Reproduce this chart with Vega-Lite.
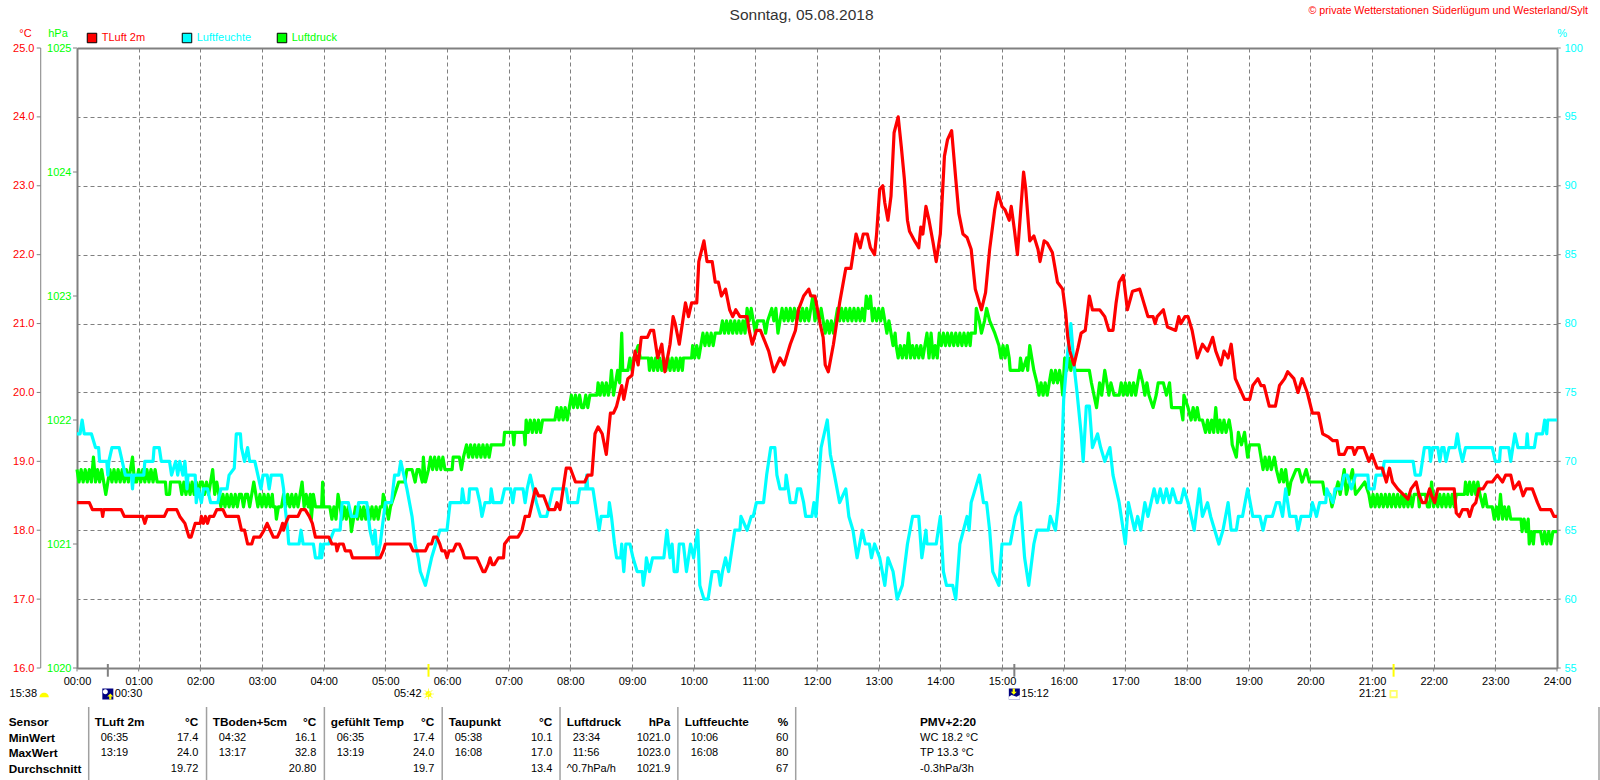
{
"$schema":"https://vega.github.io/schema/vega-lite/v6.json",
"description":"Wetterstation Tagesgang 05.08.2018",
"width":1480,"height":620,"autosize":"none",
"padding":{"left":77,"top":48,"right":43,"bottom":112},
"background":"white",
"config":{
"view":{"stroke":null},
"axis":{"labelFont":"Liberation Sans","titleFont":"Liberation Sans","labelFontSize":11,"titleFontSize":11,"titleFontWeight":"normal","tickColor":"#808080","tickOpacity":1,"domainColor":"#808080","domainOpacity":1,"gridColor":"#808080","gridDash":[4,3],"gridOpacity":1,"labelOverlap":false,"labelBound":false,"labelFlush":false},
"text":{"font":"Liberation Sans","fontSize":11}
},
"datasets":{
"tluft":[{"min":0,"t":18.4},{"min":12,"t":18.4},{"min":15,"t":18.3},{"min":24,"t":18.3},{"min":25,"t":18.2},{"min":26,"t":18.3},{"min":43,"t":18.3},{"min":46,"t":18.2},{"min":64,"t":18.2},{"min":66,"t":18.1},{"min":68,"t":18.2},{"min":85,"t":18.2},{"min":88,"t":18.3},{"min":97,"t":18.3},{"min":100,"t":18.2},{"min":105,"t":18.1},{"min":107,"t":18.0},{"min":109,"t":17.9},{"min":111,"t":17.9},{"min":115,"t":18.1},{"min":120,"t":18.1},{"min":121,"t":18.2},{"min":123,"t":18.1},{"min":125,"t":18.2},{"min":127,"t":18.1},{"min":129,"t":18.2},{"min":133,"t":18.2},{"min":136,"t":18.3},{"min":142,"t":18.3},{"min":145,"t":18.2},{"min":157,"t":18.2},{"min":160,"t":18.0},{"min":163,"t":18.0},{"min":166,"t":17.8},{"min":168,"t":17.8},{"min":170,"t":17.8},{"min":172,"t":17.9},{"min":178,"t":17.9},{"min":182,"t":18.0},{"min":185,"t":18.1},{"min":188,"t":18.0},{"min":191,"t":17.9},{"min":195,"t":17.9},{"min":198,"t":18.0},{"min":200,"t":18.1},{"min":201,"t":18.0},{"min":203,"t":18.1},{"min":206,"t":18.2},{"min":215,"t":18.2},{"min":218,"t":18.3},{"min":222,"t":18.3},{"min":226,"t":18.2},{"min":229,"t":18.1},{"min":232,"t":17.9},{"min":245,"t":17.9},{"min":248,"t":17.8},{"min":252,"t":17.8},{"min":253,"t":17.7},{"min":255,"t":17.8},{"min":259,"t":17.8},{"min":261,"t":17.7},{"min":266,"t":17.7},{"min":268,"t":17.6},{"min":269,"t":17.6},{"min":295,"t":17.6},{"min":298,"t":17.7},{"min":300,"t":17.8},{"min":324,"t":17.8},{"min":327,"t":17.7},{"min":339,"t":17.7},{"min":342,"t":17.8},{"min":345,"t":17.8},{"min":347,"t":17.9},{"min":350,"t":17.9},{"min":353,"t":17.8},{"min":355,"t":17.7},{"min":358,"t":17.7},{"min":360,"t":17.6},{"min":362,"t":17.7},{"min":366,"t":17.7},{"min":369,"t":17.8},{"min":372,"t":17.8},{"min":375,"t":17.7},{"min":377,"t":17.6},{"min":389,"t":17.6},{"min":392,"t":17.5},{"min":395,"t":17.4},{"min":397,"t":17.4},{"min":400,"t":17.5},{"min":402,"t":17.6},{"min":404,"t":17.5},{"min":406,"t":17.5},{"min":410,"t":17.6},{"min":415,"t":17.6},{"min":416,"t":17.8},{"min":421,"t":17.9},{"min":429,"t":17.9},{"min":433,"t":18.0},{"min":436,"t":18.2},{"min":440,"t":18.2},{"min":443,"t":18.4},{"min":446,"t":18.6},{"min":449,"t":18.5},{"min":454,"t":18.5},{"min":459,"t":18.3},{"min":465,"t":18.3},{"min":467,"t":18.4},{"min":470,"t":18.3},{"min":473,"t":18.6},{"min":476,"t":18.9},{"min":480,"t":18.9},{"min":485,"t":18.7},{"min":494,"t":18.7},{"min":497,"t":18.8},{"min":501,"t":18.8},{"min":504,"t":19.4},{"min":507,"t":19.5},{"min":511,"t":19.4},{"min":515,"t":19.1},{"min":519,"t":19.7},{"min":522,"t":19.7},{"min":525,"t":19.8},{"min":530,"t":20.1},{"min":532,"t":19.9},{"min":536,"t":20.2},{"min":540,"t":20.25},{"min":543,"t":20.6},{"min":546,"t":20.4},{"min":549,"t":20.8},{"min":555,"t":20.8},{"min":558,"t":20.9},{"min":561,"t":20.9},{"min":565,"t":20.5},{"min":569,"t":20.7},{"min":572,"t":20.3},{"min":577,"t":20.7},{"min":580,"t":21.1},{"min":582,"t":21.0},{"min":586,"t":20.7},{"min":592,"t":21.3},{"min":595,"t":21.1},{"min":598,"t":21.3},{"min":603,"t":21.3},{"min":605,"t":21.9},{"min":610,"t":22.2},{"min":613,"t":21.9},{"min":618,"t":21.9},{"min":621,"t":21.6},{"min":624,"t":21.6},{"min":627,"t":21.4},{"min":631,"t":21.5},{"min":635,"t":21.2},{"min":638,"t":21.1},{"min":641,"t":21.2},{"min":645,"t":21.1},{"min":652,"t":21.1},{"min":654,"t":20.9},{"min":657,"t":20.7},{"min":661,"t":20.9},{"min":665,"t":20.9},{"min":673,"t":20.6},{"min":678,"t":20.3},{"min":684,"t":20.5},{"min":688,"t":20.4},{"min":694,"t":20.7},{"min":699,"t":20.9},{"min":702,"t":21.2},{"min":707,"t":21.4},{"min":712,"t":21.5},{"min":714,"t":21.4},{"min":718,"t":21.4},{"min":723,"t":21.0},{"min":726,"t":20.8},{"min":728,"t":20.4},{"min":731,"t":20.3},{"min":736,"t":20.7},{"min":742,"t":21.3},{"min":748,"t":21.8},{"min":753,"t":21.8},{"min":756,"t":22.1},{"min":758,"t":22.3},{"min":762,"t":22.1},{"min":765,"t":22.3},{"min":769,"t":22.3},{"min":772,"t":22.1},{"min":776,"t":22.0},{"min":778,"t":22.3},{"min":781,"t":22.95},{"min":784,"t":23.0},{"min":786,"t":22.75},{"min":789,"t":22.5},{"min":792,"t":22.85},{"min":795,"t":23.77},{"min":799,"t":24.0},{"min":802,"t":23.57},{"min":805,"t":23.1},{"min":808,"t":22.5},{"min":810,"t":22.34},{"min":815,"t":22.2},{"min":819,"t":22.1},{"min":821,"t":22.4},{"min":823,"t":22.3},{"min":826,"t":22.7},{"min":829,"t":22.5},{"min":833,"t":22.17},{"min":836,"t":21.9},{"min":840,"t":22.3},{"min":844,"t":23.43},{"min":847,"t":23.67},{"min":851,"t":23.8},{"min":855,"t":23.1},{"min":858,"t":22.6},{"min":862,"t":22.3},{"min":866,"t":22.25},{"min":870,"t":22.08},{"min":874,"t":21.5},{"min":878,"t":21.3},{"min":880,"t":21.2},{"min":884,"t":21.45},{"min":888,"t":22.08},{"min":893,"t":22.66},{"min":896,"t":22.9},{"min":900,"t":22.7},{"min":903,"t":22.65},{"min":907,"t":22.5},{"min":909,"t":22.7},{"min":912,"t":22.37},{"min":915,"t":22.0},{"min":918,"t":22.6},{"min":921,"t":23.2},{"min":923,"t":22.97},{"min":927,"t":22.2},{"min":931,"t":22.27},{"min":935,"t":22.08},{"min":937,"t":21.9},{"min":941,"t":22.2},{"min":944,"t":22.17},{"min":949,"t":22.03},{"min":954,"t":21.6},{"min":959,"t":21.5},{"min":962,"t":21.15},{"min":964,"t":20.8},{"min":966,"t":20.6},{"min":970,"t":20.4},{"min":974,"t":20.65},{"min":977,"t":20.86},{"min":981,"t":20.9},{"min":985,"t":21.4},{"min":988,"t":21.2},{"min":995,"t":21.2},{"min":1000,"t":21.1},{"min":1004,"t":20.9},{"min":1008,"t":20.9},{"min":1011,"t":21.3},{"min":1014,"t":21.6},{"min":1018,"t":21.7},{"min":1022,"t":21.2},{"min":1027,"t":21.47},{"min":1034,"t":21.5},{"min":1038,"t":21.3},{"min":1042,"t":21.1},{"min":1047,"t":21.1},{"min":1049,"t":21.0},{"min":1051,"t":21.1},{"min":1057,"t":21.2},{"min":1061,"t":20.95},{"min":1069,"t":20.9},{"min":1072,"t":21.1},{"min":1074,"t":21.0},{"min":1078,"t":21.1},{"min":1081,"t":21.1},{"min":1085,"t":20.9},{"min":1090,"t":20.5},{"min":1095,"t":20.7},{"min":1100,"t":20.6},{"min":1105,"t":20.8},{"min":1108,"t":20.6},{"min":1113,"t":20.4},{"min":1116,"t":20.6},{"min":1120,"t":20.5},{"min":1123,"t":20.7},{"min":1127,"t":20.2},{"min":1133,"t":20.0},{"min":1136,"t":19.9},{"min":1141,"t":19.9},{"min":1144,"t":20.1},{"min":1149,"t":20.2},{"min":1152,"t":20.1},{"min":1155,"t":20.1},{"min":1160,"t":19.8},{"min":1166,"t":19.8},{"min":1170,"t":20.1},{"min":1175,"t":20.2},{"min":1178,"t":20.3},{"min":1184,"t":20.2},{"min":1188,"t":20.0},{"min":1192,"t":20.2},{"min":1197,"t":20.0},{"min":1202,"t":19.7},{"min":1208,"t":19.7},{"min":1212,"t":19.4},{"min":1218,"t":19.35},{"min":1222,"t":19.3},{"min":1226,"t":19.3},{"min":1228,"t":19.1},{"min":1233,"t":19.1},{"min":1236,"t":19.2},{"min":1241,"t":19.2},{"min":1243,"t":19.1},{"min":1246,"t":19.2},{"min":1252,"t":19.2},{"min":1257,"t":19.0},{"min":1260,"t":19.1},{"min":1265,"t":18.9},{"min":1270,"t":18.9},{"min":1274,"t":18.7},{"min":1277,"t":18.9},{"min":1280,"t":18.7},{"min":1285,"t":18.6},{"min":1295,"t":18.45},{"min":1298,"t":18.6},{"min":1303,"t":18.7},{"min":1306,"t":18.5},{"min":1309,"t":18.4},{"min":1312,"t":18.4},{"min":1316,"t":18.6},{"min":1318,"t":18.5},{"min":1321,"t":18.4},{"min":1324,"t":18.6},{"min":1340,"t":18.6},{"min":1342,"t":18.25},{"min":1345,"t":18.2},{"min":1348,"t":18.3},{"min":1353,"t":18.3},{"min":1355,"t":18.2},{"min":1358,"t":18.35},{"min":1361,"t":18.4},{"min":1364,"t":18.6},{"min":1368,"t":18.6},{"min":1372,"t":18.7},{"min":1377,"t":18.7},{"min":1382,"t":18.8},{"min":1387,"t":18.7},{"min":1390,"t":18.8},{"min":1395,"t":18.8},{"min":1398,"t":18.6},{"min":1403,"t":18.7},{"min":1407,"t":18.5},{"min":1410,"t":18.6},{"min":1416,"t":18.6},{"min":1421,"t":18.4},{"min":1424,"t":18.3},{"min":1434,"t":18.3},{"min":1437,"t":18.2},{"min":1440,"t":18.2}],
"feuchte":[{"min":0,"h":72},{"min":3,"h":72},{"min":5,"h":73},{"min":7,"h":72},{"min":14,"h":72},{"min":18,"h":71},{"min":21,"h":71},{"min":22,"h":70},{"min":29,"h":70},{"min":30,"h":69},{"min":31,"h":70},{"min":34,"h":71},{"min":41,"h":71},{"min":44,"h":70},{"min":47,"h":69},{"min":53,"h":69},{"min":54,"h":68},{"min":55,"h":69},{"min":65,"h":69},{"min":66,"h":70},{"min":74,"h":70},{"min":75,"h":71},{"min":80,"h":71},{"min":82,"h":70},{"min":90,"h":70},{"min":92,"h":69},{"min":96,"h":70},{"min":98,"h":69},{"min":100,"h":70},{"min":103,"h":69},{"min":105,"h":70},{"min":107,"h":68},{"min":108,"h":69},{"min":115,"h":69},{"min":116,"h":67},{"min":118,"h":68},{"min":121,"h":67},{"min":123,"h":68},{"min":127,"h":68},{"min":130,"h":67},{"min":137,"h":67},{"min":140,"h":68},{"min":146,"h":68},{"min":148,"h":69},{"min":153,"h":69.5},{"min":155,"h":72},{"min":159,"h":72},{"min":160,"h":71},{"min":163,"h":70},{"min":166,"h":71},{"min":168,"h":70},{"min":173,"h":70},{"min":176,"h":69},{"min":179,"h":68},{"min":181,"h":69},{"min":185,"h":69},{"min":187,"h":68},{"min":189,"h":69},{"min":199,"h":69},{"min":201,"h":68},{"min":202,"h":67},{"min":205,"h":65},{"min":206,"h":64},{"min":216,"h":64},{"min":218,"h":65},{"min":220,"h":64},{"min":230,"h":64},{"min":232,"h":63},{"min":236,"h":63},{"min":237,"h":64},{"min":238,"h":63},{"min":240,"h":64},{"min":245,"h":64},{"min":250,"h":65},{"min":256,"h":65},{"min":258,"h":67},{"min":264,"h":67},{"min":267,"h":66},{"min":272,"h":66},{"min":274,"h":67},{"min":282,"h":67},{"min":285,"h":65},{"min":288,"h":64},{"min":290,"h":65},{"min":292,"h":63},{"min":295,"h":64},{"min":300,"h":67},{"min":306,"h":67},{"min":309,"h":69},{"min":313,"h":69},{"min":315,"h":70},{"min":318,"h":69},{"min":321,"h":68},{"min":326,"h":66},{"min":329,"h":64},{"min":332,"h":63},{"min":334,"h":62},{"min":339,"h":61},{"min":342,"h":62},{"min":345,"h":63},{"min":349,"h":64},{"min":353,"h":65},{"min":360,"h":65},{"min":363,"h":67},{"min":374,"h":67},{"min":375,"h":68},{"min":377,"h":67},{"min":381,"h":67},{"min":382,"h":68},{"min":389,"h":68},{"min":392,"h":67},{"min":394,"h":66},{"min":397,"h":67},{"min":402,"h":67},{"min":403,"h":68},{"min":405,"h":67},{"min":413,"h":67},{"min":416,"h":68},{"min":422,"h":68},{"min":424,"h":67},{"min":426,"h":68},{"min":434,"h":68},{"min":436,"h":67},{"min":438,"h":68},{"min":441,"h":69},{"min":444,"h":68},{"min":447,"h":67},{"min":451,"h":66},{"min":457,"h":66},{"min":460,"h":67},{"min":463,"h":68},{"min":470,"h":68},{"min":476,"h":68},{"min":478,"h":67},{"min":487,"h":67},{"min":489,"h":68},{"min":495,"h":68},{"min":496,"h":69},{"min":497,"h":68},{"min":502,"h":68},{"min":506,"h":66},{"min":508,"h":65},{"min":510,"h":66},{"min":517,"h":66},{"min":518,"h":67},{"min":520,"h":66},{"min":523,"h":64},{"min":525,"h":63},{"min":529,"h":63},{"min":530,"h":64},{"min":532,"h":62},{"min":534,"h":64},{"min":538,"h":64},{"min":541,"h":63},{"min":545,"h":62},{"min":550,"h":62},{"min":551,"h":61},{"min":553,"h":62},{"min":554,"h":63},{"min":557,"h":62},{"min":560,"h":63},{"min":571,"h":63},{"min":574,"h":65},{"min":577,"h":63},{"min":579,"h":64},{"min":581,"h":62},{"min":584,"h":62},{"min":586,"h":64},{"min":590,"h":64},{"min":593,"h":62},{"min":597,"h":64},{"min":600,"h":63},{"min":604,"h":65},{"min":606,"h":61},{"min":610,"h":60},{"min":614,"h":60},{"min":616,"h":61},{"min":618,"h":62},{"min":624,"h":62},{"min":626,"h":61},{"min":628,"h":62},{"min":631,"h":63},{"min":634,"h":62},{"min":638,"h":64},{"min":640,"h":65},{"min":645,"h":65},{"min":646,"h":66},{"min":652,"h":65},{"min":656,"h":66},{"min":658,"h":66},{"min":661,"h":67},{"min":668,"h":67},{"min":671,"h":69},{"min":675,"h":71},{"min":679,"h":71},{"min":681,"h":69},{"min":684,"h":68},{"min":689,"h":68},{"min":690,"h":69},{"min":694,"h":67},{"min":699,"h":67},{"min":701,"h":68},{"min":704,"h":68},{"min":707,"h":67},{"min":709,"h":66},{"min":715,"h":66},{"min":717,"h":67},{"min":719,"h":66},{"min":721,"h":68},{"min":724,"h":71},{"min":730,"h":73},{"min":733,"h":70.5},{"min":737,"h":69},{"min":742,"h":67},{"min":748,"h":68},{"min":751,"h":66},{"min":755,"h":65},{"min":759,"h":63},{"min":764,"h":65},{"min":767,"h":64},{"min":771,"h":64},{"min":773,"h":63},{"min":776,"h":64},{"min":781,"h":63},{"min":786,"h":61},{"min":789,"h":63},{"min":794,"h":62},{"min":798,"h":60},{"min":803,"h":61},{"min":808,"h":64},{"min":813,"h":66},{"min":819,"h":66},{"min":822,"h":63},{"min":826,"h":65},{"min":827,"h":64},{"min":836,"h":64},{"min":840,"h":66},{"min":843,"h":62},{"min":846,"h":61},{"min":852,"h":61},{"min":855,"h":60},{"min":859,"h":64},{"min":866,"h":66},{"min":868,"h":65},{"min":870,"h":67},{"min":878,"h":69},{"min":882,"h":67},{"min":885,"h":67},{"min":888,"h":65},{"min":891,"h":62},{"min":897,"h":61},{"min":900,"h":64},{"min":908,"h":64},{"min":913,"h":66},{"min":918,"h":67},{"min":922,"h":63},{"min":926,"h":61},{"min":931,"h":64},{"min":934,"h":65},{"min":945,"h":65},{"min":947,"h":66},{"min":952,"h":65},{"min":955,"h":67},{"min":958,"h":70},{"min":960,"h":74.5},{"min":964,"h":78},{"min":967,"h":80},{"min":970,"h":77},{"min":973,"h":75},{"min":977,"h":72},{"min":979,"h":70},{"min":982,"h":74},{"min":985,"h":74},{"min":988,"h":71},{"min":993,"h":72},{"min":996,"h":71},{"min":1000,"h":70},{"min":1005,"h":71},{"min":1008,"h":69},{"min":1011,"h":68},{"min":1014,"h":67},{"min":1020,"h":64},{"min":1023,"h":67},{"min":1029,"h":65},{"min":1032,"h":66},{"min":1035,"h":65},{"min":1039,"h":67},{"min":1042,"h":66},{"min":1045,"h":67},{"min":1048,"h":68},{"min":1051,"h":67},{"min":1054,"h":68},{"min":1057,"h":67},{"min":1060,"h":68},{"min":1063,"h":67},{"min":1066,"h":68},{"min":1070,"h":67},{"min":1074,"h":67},{"min":1077,"h":68},{"min":1081,"h":67},{"min":1084,"h":66},{"min":1087,"h":65},{"min":1092,"h":68},{"min":1095,"h":66},{"min":1100,"h":67},{"min":1103,"h":66},{"min":1107,"h":65},{"min":1111,"h":64},{"min":1115,"h":65},{"min":1120,"h":67},{"min":1123,"h":65},{"min":1128,"h":65},{"min":1130,"h":66},{"min":1134,"h":66},{"min":1139,"h":68},{"min":1144,"h":66},{"min":1151,"h":66},{"min":1154,"h":65},{"min":1157,"h":66},{"min":1163,"h":66},{"min":1167,"h":67},{"min":1170,"h":67},{"min":1173,"h":66},{"min":1176,"h":68},{"min":1180,"h":66},{"min":1186,"h":66},{"min":1188,"h":65},{"min":1191,"h":66},{"min":1200,"h":66},{"min":1202,"h":67},{"min":1206,"h":66},{"min":1209,"h":67},{"min":1215,"h":67},{"min":1216,"h":68},{"min":1222,"h":67},{"min":1224,"h":68},{"min":1230,"h":68},{"min":1233,"h":69},{"min":1236,"h":69},{"min":1240,"h":68},{"min":1244,"h":69},{"min":1256,"h":69},{"min":1257,"h":68},{"min":1262,"h":68},{"min":1264,"h":69},{"min":1270,"h":69},{"min":1272,"h":70},{"min":1300,"h":70},{"min":1302,"h":69},{"min":1307,"h":69},{"min":1309,"h":70},{"min":1311,"h":71},{"min":1316,"h":71},{"min":1317,"h":70},{"min":1319,"h":71},{"min":1324,"h":71},{"min":1326,"h":70},{"min":1328,"h":71},{"min":1330,"h":71},{"min":1332,"h":70},{"min":1335,"h":71},{"min":1341,"h":71},{"min":1343,"h":72},{"min":1345,"h":71},{"min":1348,"h":70},{"min":1351,"h":71},{"min":1377,"h":71},{"min":1380,"h":70},{"min":1384,"h":70},{"min":1385,"h":71},{"min":1393,"h":71},{"min":1395,"h":70},{"min":1397,"h":71},{"min":1399,"h":72},{"min":1402,"h":71},{"min":1410,"h":71},{"min":1411,"h":72},{"min":1412,"h":71},{"min":1418,"h":71},{"min":1420,"h":72},{"min":1426,"h":72},{"min":1428,"h":73},{"min":1430,"h":72},{"min":1431,"h":73},{"min":1440,"h":73}],
"druck":[{"min":0,"p":1021.6},{"min":2,"p":1021.5},{"min":4,"p":1021.6},{"min":6,"p":1021.5},{"min":8,"p":1021.6},{"min":10,"p":1021.5},{"min":12,"p":1021.6},{"min":14,"p":1021.5},{"min":16,"p":1021.7},{"min":18,"p":1021.5},{"min":20,"p":1021.6},{"min":22,"p":1021.5},{"min":24,"p":1021.6},{"min":26,"p":1021.5},{"min":28,"p":1021.4},{"min":30,"p":1021.5},{"min":32,"p":1021.6},{"min":34,"p":1021.5},{"min":36,"p":1021.6},{"min":38,"p":1021.5},{"min":40,"p":1021.6},{"min":42,"p":1021.5},{"min":44,"p":1021.6},{"min":46,"p":1021.5},{"min":48,"p":1021.6},{"min":50,"p":1021.5},{"min":52,"p":1021.6},{"min":54,"p":1021.7},{"min":56,"p":1021.5},{"min":58,"p":1021.5},{"min":60,"p":1021.6},{"min":62,"p":1021.5},{"min":64,"p":1021.6},{"min":66,"p":1021.5},{"min":68,"p":1021.6},{"min":70,"p":1021.5},{"min":72,"p":1021.6},{"min":74,"p":1021.5},{"min":76,"p":1021.6},{"min":78,"p":1021.5},{"min":86,"p":1021.5},{"min":87,"p":1021.4},{"min":90,"p":1021.4},{"min":91,"p":1021.5},{"min":100,"p":1021.5},{"min":102,"p":1021.4},{"min":104,"p":1021.5},{"min":106,"p":1021.4},{"min":108,"p":1021.5},{"min":110,"p":1021.4},{"min":112,"p":1021.5},{"min":114,"p":1021.4},{"min":116,"p":1021.5},{"min":118,"p":1021.4},{"min":120,"p":1021.5},{"min":122,"p":1021.5},{"min":124,"p":1021.4},{"min":126,"p":1021.5},{"min":128,"p":1021.4},{"min":130,"p":1021.5},{"min":132,"p":1021.6},{"min":134,"p":1021.4},{"min":136,"p":1021.5},{"min":138,"p":1021.4},{"min":140,"p":1021.3},{"min":142,"p":1021.4},{"min":144,"p":1021.3},{"min":146,"p":1021.4},{"min":148,"p":1021.3},{"min":150,"p":1021.4},{"min":152,"p":1021.3},{"min":154,"p":1021.4},{"min":156,"p":1021.3},{"min":158,"p":1021.4},{"min":160,"p":1021.4},{"min":162,"p":1021.3},{"min":164,"p":1021.4},{"min":166,"p":1021.4},{"min":168,"p":1021.3},{"min":170,"p":1021.4},{"min":172,"p":1021.5},{"min":174,"p":1021.4},{"min":176,"p":1021.3},{"min":178,"p":1021.4},{"min":180,"p":1021.3},{"min":182,"p":1021.4},{"min":184,"p":1021.3},{"min":186,"p":1021.4},{"min":188,"p":1021.3},{"min":190,"p":1021.4},{"min":191,"p":1021.3},{"min":193,"p":1021.3},{"min":194,"p":1021.2},{"min":196,"p":1021.3},{"min":199,"p":1021.3},{"min":201,"p":1021.4},{"min":203,"p":1021.3},{"min":205,"p":1021.4},{"min":207,"p":1021.3},{"min":209,"p":1021.4},{"min":211,"p":1021.3},{"min":213,"p":1021.4},{"min":215,"p":1021.3},{"min":217,"p":1021.4},{"min":219,"p":1021.5},{"min":221,"p":1021.3},{"min":223,"p":1021.4},{"min":225,"p":1021.3},{"min":227,"p":1021.4},{"min":228,"p":1021.2},{"min":230,"p":1021.4},{"min":232,"p":1021.3},{"min":238,"p":1021.3},{"min":239,"p":1021.5},{"min":240,"p":1021.3},{"min":246,"p":1021.3},{"min":248,"p":1021.2},{"min":250,"p":1021.3},{"min":252,"p":1021.2},{"min":254,"p":1021.4},{"min":256,"p":1021.3},{"min":258,"p":1021.2},{"min":260,"p":1021.3},{"min":262,"p":1021.2},{"min":264,"p":1021.3},{"min":266,"p":1021.2},{"min":267,"p":1021.1},{"min":269,"p":1021.2},{"min":271,"p":1021.3},{"min":273,"p":1021.2},{"min":275,"p":1021.3},{"min":277,"p":1021.2},{"min":279,"p":1021.3},{"min":281,"p":1021.2},{"min":283,"p":1021.3},{"min":285,"p":1021.2},{"min":287,"p":1021.3},{"min":289,"p":1021.2},{"min":291,"p":1021.3},{"min":293,"p":1021.2},{"min":295,"p":1021.3},{"min":297,"p":1021.3},{"min":298,"p":1021.4},{"min":301,"p":1021.3},{"min":303,"p":1021.2},{"min":305,"p":1021.3},{"min":309,"p":1021.4},{"min":313,"p":1021.5},{"min":319,"p":1021.5},{"min":321,"p":1021.6},{"min":326,"p":1021.6},{"min":329,"p":1021.5},{"min":331,"p":1021.6},{"min":333,"p":1021.6},{"min":336,"p":1021.5},{"min":337,"p":1021.7},{"min":339,"p":1021.5},{"min":342,"p":1021.6},{"min":344,"p":1021.7},{"min":346,"p":1021.6},{"min":348,"p":1021.7},{"min":350,"p":1021.6},{"min":352,"p":1021.7},{"min":354,"p":1021.6},{"min":356,"p":1021.7},{"min":358,"p":1021.6},{"min":365,"p":1021.6},{"min":366,"p":1021.7},{"min":372,"p":1021.7},{"min":374,"p":1021.6},{"min":376,"p":1021.7},{"min":379,"p":1021.8},{"min":381,"p":1021.7},{"min":383,"p":1021.8},{"min":385,"p":1021.7},{"min":387,"p":1021.8},{"min":389,"p":1021.7},{"min":391,"p":1021.8},{"min":393,"p":1021.7},{"min":395,"p":1021.8},{"min":397,"p":1021.7},{"min":399,"p":1021.8},{"min":401,"p":1021.7},{"min":403,"p":1021.8},{"min":415,"p":1021.8},{"min":416,"p":1021.9},{"min":424,"p":1021.9},{"min":425,"p":1021.8},{"min":426,"p":1021.9},{"min":435,"p":1021.9},{"min":436,"p":1021.8},{"min":437,"p":1022.0},{"min":439,"p":1021.9},{"min":441,"p":1022.0},{"min":443,"p":1021.9},{"min":445,"p":1022.0},{"min":447,"p":1021.9},{"min":449,"p":1022.0},{"min":451,"p":1021.9},{"min":453,"p":1022.0},{"min":465,"p":1022.0},{"min":467,"p":1022.1},{"min":469,"p":1022.0},{"min":471,"p":1022.1},{"min":473,"p":1022.0},{"min":475,"p":1022.1},{"min":477,"p":1022.0},{"min":479,"p":1022.1},{"min":481,"p":1022.2},{"min":483,"p":1022.1},{"min":485,"p":1022.2},{"min":487,"p":1022.1},{"min":489,"p":1022.2},{"min":491,"p":1022.1},{"min":493,"p":1022.1},{"min":495,"p":1022.2},{"min":497,"p":1022.1},{"min":499,"p":1022.2},{"min":506,"p":1022.2},{"min":507,"p":1022.3},{"min":509,"p":1022.2},{"min":511,"p":1022.3},{"min":513,"p":1022.2},{"min":515,"p":1022.3},{"min":517,"p":1022.2},{"min":519,"p":1022.3},{"min":520,"p":1022.4},{"min":522,"p":1022.2},{"min":524,"p":1022.3},{"min":526,"p":1022.4},{"min":528,"p":1022.3},{"min":530,"p":1022.7},{"min":531,"p":1022.4},{"min":536,"p":1022.4},{"min":538,"p":1022.5},{"min":540,"p":1022.4},{"min":542,"p":1022.5},{"min":546,"p":1022.6},{"min":548,"p":1022.5},{"min":556,"p":1022.5},{"min":557,"p":1022.4},{"min":559,"p":1022.5},{"min":561,"p":1022.4},{"min":563,"p":1022.5},{"min":565,"p":1022.4},{"min":567,"p":1022.5},{"min":569,"p":1022.4},{"min":571,"p":1022.5},{"min":573,"p":1022.4},{"min":575,"p":1022.5},{"min":577,"p":1022.4},{"min":579,"p":1022.5},{"min":581,"p":1022.4},{"min":583,"p":1022.5},{"min":585,"p":1022.4},{"min":587,"p":1022.5},{"min":589,"p":1022.4},{"min":590,"p":1022.5},{"min":598,"p":1022.5},{"min":599,"p":1022.6},{"min":601,"p":1022.5},{"min":603,"p":1022.6},{"min":605,"p":1022.5},{"min":607,"p":1022.6},{"min":609,"p":1022.7},{"min":611,"p":1022.6},{"min":613,"p":1022.7},{"min":615,"p":1022.6},{"min":617,"p":1022.7},{"min":619,"p":1022.6},{"min":621,"p":1022.7},{"min":626,"p":1022.7},{"min":628,"p":1022.8},{"min":630,"p":1022.7},{"min":632,"p":1022.8},{"min":634,"p":1022.7},{"min":636,"p":1022.8},{"min":638,"p":1022.7},{"min":640,"p":1022.8},{"min":642,"p":1022.7},{"min":644,"p":1022.8},{"min":646,"p":1022.7},{"min":648,"p":1022.8},{"min":650,"p":1022.7},{"min":652,"p":1022.9},{"min":654,"p":1022.8},{"min":656,"p":1022.9},{"min":658,"p":1022.8},{"min":660,"p":1022.7},{"min":662,"p":1022.8},{"min":668,"p":1022.8},{"min":670,"p":1022.7},{"min":672,"p":1022.8},{"min":676,"p":1022.9},{"min":678,"p":1022.8},{"min":680,"p":1022.9},{"min":682,"p":1022.7},{"min":684,"p":1022.8},{"min":686,"p":1022.9},{"min":688,"p":1022.8},{"min":690,"p":1022.9},{"min":692,"p":1022.8},{"min":694,"p":1022.9},{"min":696,"p":1022.8},{"min":698,"p":1022.9},{"min":700,"p":1022.8},{"min":702,"p":1022.9},{"min":704,"p":1022.8},{"min":706,"p":1022.9},{"min":708,"p":1022.8},{"min":710,"p":1022.9},{"min":712,"p":1022.8},{"min":714,"p":1022.9},{"min":716,"p":1023.0},{"min":718,"p":1022.8},{"min":720,"p":1022.9},{"min":722,"p":1022.8},{"min":724,"p":1022.9},{"min":726,"p":1022.8},{"min":728,"p":1022.7},{"min":730,"p":1022.8},{"min":732,"p":1022.7},{"min":734,"p":1022.8},{"min":736,"p":1022.7},{"min":738,"p":1022.8},{"min":740,"p":1022.9},{"min":742,"p":1022.8},{"min":744,"p":1022.9},{"min":746,"p":1022.8},{"min":748,"p":1022.9},{"min":750,"p":1022.8},{"min":752,"p":1022.9},{"min":754,"p":1022.8},{"min":756,"p":1022.9},{"min":758,"p":1022.8},{"min":760,"p":1022.9},{"min":762,"p":1022.8},{"min":764,"p":1022.9},{"min":766,"p":1022.8},{"min":768,"p":1023.0},{"min":770,"p":1022.9},{"min":772,"p":1023.0},{"min":774,"p":1022.8},{"min":776,"p":1022.9},{"min":778,"p":1022.8},{"min":780,"p":1022.9},{"min":782,"p":1022.8},{"min":784,"p":1022.9},{"min":786,"p":1022.8},{"min":788,"p":1022.7},{"min":790,"p":1022.8},{"min":792,"p":1022.7},{"min":794,"p":1022.6},{"min":796,"p":1022.7},{"min":797,"p":1022.6},{"min":799,"p":1022.5},{"min":801,"p":1022.6},{"min":803,"p":1022.5},{"min":805,"p":1022.6},{"min":807,"p":1022.5},{"min":809,"p":1022.7},{"min":811,"p":1022.5},{"min":813,"p":1022.6},{"min":815,"p":1022.5},{"min":817,"p":1022.6},{"min":819,"p":1022.5},{"min":821,"p":1022.6},{"min":823,"p":1022.5},{"min":825,"p":1022.6},{"min":827,"p":1022.7},{"min":829,"p":1022.5},{"min":831,"p":1022.7},{"min":833,"p":1022.5},{"min":835,"p":1022.6},{"min":837,"p":1022.5},{"min":839,"p":1022.7},{"min":841,"p":1022.6},{"min":843,"p":1022.7},{"min":845,"p":1022.6},{"min":847,"p":1022.7},{"min":849,"p":1022.6},{"min":851,"p":1022.7},{"min":853,"p":1022.6},{"min":855,"p":1022.7},{"min":857,"p":1022.6},{"min":859,"p":1022.7},{"min":861,"p":1022.6},{"min":863,"p":1022.7},{"min":865,"p":1022.6},{"min":867,"p":1022.7},{"min":869,"p":1022.6},{"min":870,"p":1022.7},{"min":874,"p":1022.7},{"min":875,"p":1022.9},{"min":878,"p":1022.8},{"min":880,"p":1022.7},{"min":883,"p":1022.8},{"min":885,"p":1022.9},{"min":888,"p":1022.8},{"min":893,"p":1022.7},{"min":897,"p":1022.6},{"min":899,"p":1022.5},{"min":901,"p":1022.6},{"min":903,"p":1022.5},{"min":905,"p":1022.6},{"min":907,"p":1022.5},{"min":908,"p":1022.4},{"min":917,"p":1022.4},{"min":918,"p":1022.5},{"min":920,"p":1022.4},{"min":924,"p":1022.5},{"min":925,"p":1022.4},{"min":927,"p":1022.6},{"min":929,"p":1022.5},{"min":931,"p":1022.4},{"min":934,"p":1022.3},{"min":936,"p":1022.2},{"min":938,"p":1022.3},{"min":940,"p":1022.2},{"min":942,"p":1022.3},{"min":944,"p":1022.2},{"min":946,"p":1022.3},{"min":948,"p":1022.4},{"min":950,"p":1022.3},{"min":952,"p":1022.4},{"min":954,"p":1022.3},{"min":956,"p":1022.4},{"min":958,"p":1022.3},{"min":959,"p":1022.2},{"min":961,"p":1022.5},{"min":963,"p":1022.4},{"min":965,"p":1022.5},{"min":967,"p":1022.4},{"min":969,"p":1022.5},{"min":971,"p":1022.4},{"min":985,"p":1022.4},{"min":987,"p":1022.3},{"min":992,"p":1022.1},{"min":995,"p":1022.3},{"min":997,"p":1022.2},{"min":1000,"p":1022.4},{"min":1002,"p":1022.3},{"min":1004,"p":1022.2},{"min":1006,"p":1022.3},{"min":1009,"p":1022.2},{"min":1014,"p":1022.2},{"min":1016,"p":1022.3},{"min":1018,"p":1022.2},{"min":1020,"p":1022.3},{"min":1022,"p":1022.2},{"min":1024,"p":1022.3},{"min":1026,"p":1022.2},{"min":1028,"p":1022.3},{"min":1030,"p":1022.2},{"min":1032,"p":1022.3},{"min":1034,"p":1022.4},{"min":1037,"p":1022.3},{"min":1039,"p":1022.2},{"min":1041,"p":1022.3},{"min":1043,"p":1022.2},{"min":1047,"p":1022.1},{"min":1050,"p":1022.2},{"min":1052,"p":1022.3},{"min":1057,"p":1022.3},{"min":1060,"p":1022.2},{"min":1063,"p":1022.3},{"min":1065,"p":1022.1},{"min":1074,"p":1022.1},{"min":1076,"p":1022.0},{"min":1077,"p":1022.2},{"min":1081,"p":1022.1},{"min":1084,"p":1022.0},{"min":1086,"p":1022.1},{"min":1088,"p":1022.0},{"min":1090,"p":1022.1},{"min":1092,"p":1022.0},{"min":1095,"p":1022.0},{"min":1098,"p":1021.9},{"min":1100,"p":1022.0},{"min":1102,"p":1021.9},{"min":1104,"p":1022.0},{"min":1106,"p":1021.9},{"min":1108,"p":1022.1},{"min":1110,"p":1021.9},{"min":1112,"p":1022.0},{"min":1114,"p":1021.9},{"min":1116,"p":1022.0},{"min":1118,"p":1021.9},{"min":1121,"p":1022.0},{"min":1123,"p":1021.9},{"min":1124,"p":1021.8},{"min":1128,"p":1021.7},{"min":1130,"p":1021.9},{"min":1133,"p":1021.8},{"min":1136,"p":1021.9},{"min":1139,"p":1021.7},{"min":1141,"p":1021.8},{"min":1150,"p":1021.8},{"min":1152,"p":1021.7},{"min":1154,"p":1021.6},{"min":1156,"p":1021.7},{"min":1158,"p":1021.6},{"min":1160,"p":1021.7},{"min":1162,"p":1021.6},{"min":1165,"p":1021.7},{"min":1167,"p":1021.6},{"min":1170,"p":1021.5},{"min":1172,"p":1021.6},{"min":1174,"p":1021.5},{"min":1176,"p":1021.6},{"min":1179,"p":1021.4},{"min":1181,"p":1021.5},{"min":1186,"p":1021.6},{"min":1189,"p":1021.6},{"min":1192,"p":1021.5},{"min":1196,"p":1021.6},{"min":1199,"p":1021.5},{"min":1212,"p":1021.5},{"min":1214,"p":1021.4},{"min":1219,"p":1021.4},{"min":1221,"p":1021.3},{"min":1224,"p":1021.4},{"min":1227,"p":1021.5},{"min":1229,"p":1021.4},{"min":1231,"p":1021.5},{"min":1233,"p":1021.6},{"min":1235,"p":1021.4},{"min":1238,"p":1021.5},{"min":1241,"p":1021.6},{"min":1244,"p":1021.4},{"min":1253,"p":1021.5},{"min":1257,"p":1021.4},{"min":1259,"p":1021.3},{"min":1261,"p":1021.4},{"min":1263,"p":1021.3},{"min":1265,"p":1021.4},{"min":1267,"p":1021.3},{"min":1269,"p":1021.4},{"min":1271,"p":1021.3},{"min":1273,"p":1021.4},{"min":1275,"p":1021.3},{"min":1277,"p":1021.4},{"min":1279,"p":1021.3},{"min":1281,"p":1021.4},{"min":1283,"p":1021.3},{"min":1285,"p":1021.4},{"min":1287,"p":1021.3},{"min":1289,"p":1021.4},{"min":1291,"p":1021.3},{"min":1293,"p":1021.4},{"min":1295,"p":1021.3},{"min":1297,"p":1021.4},{"min":1299,"p":1021.3},{"min":1301,"p":1021.4},{"min":1305,"p":1021.4},{"min":1306,"p":1021.3},{"min":1307,"p":1021.4},{"min":1312,"p":1021.4},{"min":1314,"p":1021.3},{"min":1316,"p":1021.3},{"min":1318,"p":1021.5},{"min":1320,"p":1021.3},{"min":1322,"p":1021.4},{"min":1324,"p":1021.3},{"min":1326,"p":1021.4},{"min":1328,"p":1021.3},{"min":1330,"p":1021.4},{"min":1332,"p":1021.3},{"min":1334,"p":1021.4},{"min":1336,"p":1021.3},{"min":1338,"p":1021.4},{"min":1340,"p":1021.3},{"min":1342,"p":1021.4},{"min":1350,"p":1021.4},{"min":1351,"p":1021.5},{"min":1353,"p":1021.4},{"min":1355,"p":1021.5},{"min":1357,"p":1021.4},{"min":1359,"p":1021.5},{"min":1361,"p":1021.4},{"min":1363,"p":1021.5},{"min":1365,"p":1021.4},{"min":1368,"p":1021.3},{"min":1370,"p":1021.4},{"min":1372,"p":1021.3},{"min":1377,"p":1021.3},{"min":1379,"p":1021.2},{"min":1381,"p":1021.3},{"min":1383,"p":1021.2},{"min":1385,"p":1021.4},{"min":1387,"p":1021.2},{"min":1389,"p":1021.3},{"min":1391,"p":1021.2},{"min":1393,"p":1021.3},{"min":1395,"p":1021.2},{"min":1405,"p":1021.2},{"min":1406,"p":1021.1},{"min":1408,"p":1021.2},{"min":1410,"p":1021.1},{"min":1412,"p":1021.2},{"min":1413,"p":1021.0},{"min":1415,"p":1021.1},{"min":1417,"p":1021.0},{"min":1418,"p":1021.1},{"min":1424,"p":1021.1},{"min":1426,"p":1021.0},{"min":1428,"p":1021.1},{"min":1430,"p":1021.0},{"min":1432,"p":1021.1},{"min":1434,"p":1021.0},{"min":1436,"p":1021.1},{"min":1440,"p":1021.1}],
"stricheC":[{"t":16},{"t":17},{"t":18},{"t":19},{"t":20},{"t":21},{"t":22},{"t":23},{"t":24},{"t":25}],
"stricheP":[{"p":1020},{"p":1021},{"p":1022},{"p":1023},{"p":1024},{"p":1025}],
"stricheH":[{"h":55},{"h":60},{"h":65},{"h":70},{"h":75},{"h":80},{"h":85},{"h":90},{"h":95},{"h":100}],
"stricheX":[{"min":0},{"min":60},{"min":120},{"min":180},{"min":240},{"min":300},{"min":360},{"min":420},{"min":480},{"min":540},{"min":600},{"min":660},{"min":720},{"min":780},{"min":840},{"min":900},{"min":960},{"min":1020},{"min":1080},{"min":1140},{"min":1200},{"min":1260},{"min":1320},{"min":1380},{"min":1440}],
"legende":[{"spalte":0,"name":"TLuft 2m"},{"spalte":1,"name":"Luftfeuchte"},{"spalte":2,"name":"Luftdruck"}],
"ereignis":[{"min":30,"typ":"Mond"},{"min":342,"typ":"Sonne"},{"min":912,"typ":"Mond"},{"min":1281,"typ":"Sonne"}],
"zeitenR":[{"min":-32,"zeit":"15:38"},{"min":342,"zeit":"05:42"},{"min":1281,"zeit":"21:21"}],
"zeitenL":[{"min":30,"zeit":"00:30"},{"min":912,"zeit":"15:12"}],
"symbole":[{"min":-32,"teil":"Kuppel"},{"min":30,"teil":"Quadrat"},{"min":30,"teil":"Wolke"},{"min":30,"teil":"PfeilAuf"},{"min":342,"teil":"Sonne"},{"min":912,"teil":"Quadrat"},{"min":912,"teil":"Schnee"},{"min":912,"teil":"PfeilAb"},{"min":1281,"teil":"Ring"}],
"trenner":[{"spalte":1},{"spalte":2},{"spalte":3},{"spalte":4},{"spalte":5},{"spalte":6},{"spalte":7},{"spalte":8}],
"kopfLinks":[{"spalte":0,"zeile":"Sensor","text":"Sensor"},{"spalte":0,"zeile":"MinWert","text":"MinWert"},{"spalte":0,"zeile":"MaxWert","text":"MaxWert"},{"spalte":0,"zeile":"Durchschnitt","text":"Durchschnitt"},{"spalte":1,"zeile":"Sensor","text":"TLuft 2m"},{"spalte":2,"zeile":"Sensor","text":"TBoden+5cm"},{"spalte":3,"zeile":"Sensor","text":"gefühlt Temp"},{"spalte":4,"zeile":"Sensor","text":"Taupunkt"},{"spalte":5,"zeile":"Sensor","text":"Luftdruck"},{"spalte":6,"zeile":"Sensor","text":"Luftfeuchte"},{"spalte":7,"zeile":"Sensor","text":"PMV+2:20"}],
"kopfRechts":[{"spalte":1,"text":"°C"},{"spalte":2,"text":"°C"},{"spalte":3,"text":"°C"},{"spalte":4,"text":"°C"},{"spalte":5,"text":"hPa"},{"spalte":6,"text":"%"}],
"zeiten":[{"spalte":1,"zeile":"MinWert","text":"06:35"},{"spalte":1,"zeile":"MaxWert","text":"13:19"},{"spalte":2,"zeile":"MinWert","text":"04:32"},{"spalte":2,"zeile":"MaxWert","text":"13:17"},{"spalte":3,"zeile":"MinWert","text":"06:35"},{"spalte":3,"zeile":"MaxWert","text":"13:19"},{"spalte":4,"zeile":"MinWert","text":"05:38"},{"spalte":4,"zeile":"MaxWert","text":"16:08"},{"spalte":5,"zeile":"MinWert","text":"23:34"},{"spalte":5,"zeile":"MaxWert","text":"11:56"},{"spalte":6,"zeile":"MinWert","text":"10:06"},{"spalte":6,"zeile":"MaxWert","text":"16:08"}],
"extras":[{"spalte":5,"zeile":"Durchschnitt","text":"^0.7hPa/h"},{"spalte":7,"zeile":"MinWert","text":"WC 18.2 °C"},{"spalte":7,"zeile":"MaxWert","text":"TP 13.3 °C"},{"spalte":7,"zeile":"Durchschnitt","text":"-0.3hPa/3h"}],
"werte":[{"spalte":1,"zeile":"MinWert","text":"17.4"},{"spalte":1,"zeile":"MaxWert","text":"24.0"},{"spalte":1,"zeile":"Durchschnitt","text":"19.72"},{"spalte":2,"zeile":"MinWert","text":"16.1"},{"spalte":2,"zeile":"MaxWert","text":"32.8"},{"spalte":2,"zeile":"Durchschnitt","text":"20.80"},{"spalte":3,"zeile":"MinWert","text":"17.4"},{"spalte":3,"zeile":"MaxWert","text":"24.0"},{"spalte":3,"zeile":"Durchschnitt","text":"19.7"},{"spalte":4,"zeile":"MinWert","text":"10.1"},{"spalte":4,"zeile":"MaxWert","text":"17.0"},{"spalte":4,"zeile":"Durchschnitt","text":"13.4"},{"spalte":5,"zeile":"MinWert","text":"1021.0"},{"spalte":5,"zeile":"MaxWert","text":"1023.0"},{"spalte":5,"zeile":"Durchschnitt","text":"1021.9"},{"spalte":6,"zeile":"MinWert","text":"60"},{"spalte":6,"zeile":"MaxWert","text":"80"},{"spalte":6,"zeile":"Durchschnitt","text":"67"}]
},
"layer":[
{"data":{"name":"druck"},"mark":{"type":"line","color":"#00ff00","strokeWidth":3.2,"strokeJoin":"round"},
"encoding":{
"x":{"field":"min","type":"quantitative","scale":{"domain":[0,1440],"nice":false,"zero":false},
"axis":{"values":[0,60,120,180,240,300,360,420,480,540,600,660,720,780,840,900,960,1020,1080,1140,1200,1260,1320,1380,1440],"labelExpr":"(datum.value<600?'0':'')+floor(datum.value/60)+':00'","title":null,"grid":true,"domain":true,"domainWidth":2,"ticks":false,"labelPadding":7,"labelColor":"#000000"}},
"y":{"field":"p","type":"quantitative","scale":{"domain":[1020,1025],"nice":false,"zero":false},
"axis":{"orient":"left","values":[1020,1021,1022,1023,1024,1025],"format":"d","grid":false,"domain":true,"domainWidth":2,"ticks":false,"labelPadding":6,"labelColor":"#00ff00","title":"hPa","titleColor":"#00ff00","titleAngle":0,"titleAlign":"center","titleBaseline":"middle","titleX":-19.5,"titleY":-15}}}},
{"data":{"name":"feuchte"},"mark":{"type":"line","color":"#00ffff","strokeWidth":3.2,"strokeJoin":"round"},
"encoding":{
"x":{"field":"min","type":"quantitative","scale":{"domain":[0,1440],"nice":false,"zero":false},
"axis":{"orient":"top","labels":false,"ticks":false,"grid":false,"title":null,"domain":true,"domainWidth":2}},
"y":{"field":"h","type":"quantitative","scale":{"domain":[55,100],"nice":false,"zero":false},
"axis":{"orient":"right","values":[55,60,65,70,75,80,85,90,95,100],"format":"d","grid":true,"domain":true,"domainWidth":2,"ticks":false,"labelPadding":7,"labelColor":"#00ffff","title":"%","titleColor":"#00ffff","titleAngle":0,"titleAlign":"center","titleBaseline":"middle","titleX":4.7,"titleY":-15}}}},
{"data":{"name":"tluft"},"mark":{"type":"line","color":"#ff0000","strokeWidth":3.2,"strokeJoin":"round"},
"encoding":{
"x":{"field":"min","type":"quantitative","scale":{"domain":[0,1440],"nice":false,"zero":false},"axis":null},
"y":{"field":"t","type":"quantitative","scale":{"domain":[16,25],"nice":false,"zero":false},
"axis":{"orient":"left","offset":36,"values":[16,17,18,19,20,21,22,23,24,25],"format":".1f","grid":false,"domain":false,"ticks":false,"labelPadding":7,"labelColor":"#ff0000","title":"°C","titleColor":"#ff0000","titleAngle":0,"titleAlign":"center","titleBaseline":"middle","titleX":-16,"titleY":-15}}}},
{"data":{"name":"stricheC"},"mark":{"type":"rule","color":"#808080","strokeWidth":1},
"encoding":{
"x":{"datum":-39.2,"type":"quantitative","scale":{"domain":[0,1440],"nice":false,"zero":false},"axis":null},
"x2":{"datum":-35.3},
"y":{"field":"t","type":"quantitative","scale":{"domain":[16,25],"nice":false,"zero":false},"axis":null}}},
{"data":{"values":[{"von":16,"bis":25}]},"mark":{"type":"rule","color":"#808080","strokeWidth":1},
"encoding":{
"x":{"datum":-35.3,"type":"quantitative","scale":{"domain":[0,1440],"nice":false,"zero":false},"axis":null},
"y":{"field":"von","type":"quantitative","scale":{"domain":[16,25],"nice":false,"zero":false},"axis":null},
"y2":{"field":"bis"}}},
{"data":{"name":"stricheP"},"mark":{"type":"rule","color":"#808080","strokeWidth":1},
"encoding":{
"x":{"datum":-3.9,"type":"quantitative","scale":{"domain":[0,1440],"nice":false,"zero":false},"axis":null},
"x2":{"datum":0},
"y":{"field":"p","type":"quantitative","scale":{"domain":[1020,1025],"nice":false,"zero":false},"axis":null}}},
{"data":{"name":"stricheH"},"mark":{"type":"rule","color":"#808080","strokeWidth":1},
"encoding":{
"x":{"datum":1440,"type":"quantitative","scale":{"domain":[0,1440],"nice":false,"zero":false},"axis":null},
"x2":{"datum":1443.6},
"y":{"field":"h","type":"quantitative","scale":{"domain":[55,100],"nice":false,"zero":false},"axis":null}}},
{"data":{"name":"stricheX"},"mark":{"type":"rule","color":"#808080","strokeWidth":1},
"encoding":{
"x":{"field":"min","type":"quantitative","scale":{"domain":[0,1440],"nice":false,"zero":false},"axis":null},
"y":{"datum":16,"type":"quantitative","scale":{"domain":[16,25],"nice":false,"zero":false},"axis":null},
"y2":{"datum":15.95}}},
{"data":{"values":[{"min":705,"text":"Sonntag, 05.08.2018"}]},"mark":{"type":"text","align":"center","baseline":"middle","dy":-33,"fontSize":15.5,"color":"#333333"},
"encoding":{
"x":{"field":"min","type":"quantitative","scale":{"domain":[0,1440],"nice":false,"zero":false},"axis":null},
"y":{"datum":25,"type":"quantitative","scale":{"domain":[16,25],"nice":false,"zero":false},"axis":null},
"text":{"field":"text","type":"nominal"}}},
{"data":{"name":"legende"},"mark":{"type":"point","filled":true,"shape":"square","size":90,"stroke":"#000000","strokeWidth":1,"opacity":1,"yOffset":-10},
"encoding":{
"x":{"field":"spalte","type":"quantitative","scale":{"domain":[0,2],"range":[15,205],"nice":false,"zero":false},"axis":null},
"y":{"datum":25,"type":"quantitative","scale":{"domain":[16,25],"nice":false,"zero":false},"axis":null},
"color":{"field":"name","type":"nominal","scale":{"domain":["TLuft 2m","Luftfeuchte","Luftdruck"],"range":["#ff0000","#00ffff","#00ff00"]},"legend":null}}},
{"data":{"name":"legende"},"mark":{"type":"text","align":"left","baseline":"middle","dy":-10},
"encoding":{
"x":{"field":"spalte","type":"quantitative","scale":{"domain":[0,2],"range":[24.7,214.7],"nice":false,"zero":false},"axis":null},
"y":{"datum":25,"type":"quantitative","scale":{"domain":[16,25],"nice":false,"zero":false},"axis":null},
"text":{"field":"name","type":"nominal"},
"color":{"field":"name","type":"nominal","scale":{"domain":["TLuft 2m","Luftfeuchte","Luftdruck"],"range":["#ff0000","#00ffff","#00ff00"]},"legend":null}}},
{"data":{"values":[{"min":1440,"text":"© private Wetterstationen Süderlügum und Westerland/Sylt"}]},"mark":{"type":"text","align":"right","baseline":"middle","dx":31,"dy":-37,"fontSize":10.7,"color":"#ff0000"},
"encoding":{
"x":{"field":"min","type":"quantitative","scale":{"domain":[0,1440],"nice":false,"zero":false},"axis":null},
"y":{"datum":25,"type":"quantitative","scale":{"domain":[16,25],"nice":false,"zero":false},"axis":null},
"text":{"field":"text","type":"nominal"}}},
{"data":{"name":"ereignis"},"mark":{"type":"rule","strokeWidth":2},
"encoding":{
"x":{"field":"min","type":"quantitative","scale":{"domain":[0,1440],"nice":false,"zero":false},"axis":null},
"y":{"datum":0,"type":"quantitative","scale":{"domain":[0,1],"range":[616,628.7],"nice":false,"zero":false},"axis":null},
"y2":{"datum":1},
"color":{"field":"typ","type":"nominal","scale":{"domain":["Mond","Sonne"],"range":["#808080","#ffff00"]},"legend":null}}},
{"data":{"name":"symbole"},"mark":{"type":"point","filled":true,"size":121,"opacity":1,"strokeWidth":0,"yOffset":26},
"encoding":{
"x":{"field":"min","type":"quantitative","scale":{"domain":[0,1440],"nice":false,"zero":false},"axis":null},
"y":{"datum":16,"type":"quantitative","scale":{"domain":[16,25],"nice":false,"zero":false},"axis":null},
"shape":{"field":"teil","type":"nominal","scale":{"domain":["Kuppel","Quadrat","Wolke","PfeilAuf","Sonne","Schnee","PfeilAb","Ring"],"range":["M-0.85,0.6A0.85,0.85 0 0 1 0.85,0.6Z","M-1,-1H1V1H-1Z","M-0.9,-0.4A0.45,0.45 0 1 1 0,-0.4A0.45,0.45 0 1 1 -0.9,-0.4Z","M0.45,-0.1L1,0.45H0.65V1H0.25V0.45H-0.1Z","M-0.55,0A0.55,0.55 0 1 1 0.55,0A0.55,0.55 0 1 1 -0.55,0ZM-1,-0.06H1V0.06H-1ZM-0.06,-1H0.06V1H-0.06ZM-0.75,-0.67L-0.67,-0.75L0.75,0.67L0.67,0.75ZM0.75,-0.67L0.67,-0.75L-0.75,0.67L-0.67,0.75Z","M-1,1V0.5L-0.5,0.2L0.4,0.5L1,0.2V1Z","M-0.3,-1H0.1V-0.4H0.45L-0.1,0.15L-0.65,-0.4H-0.3Z","M-0.75,-0.75H0.75V0.75H-0.75ZM-0.42,-0.42V0.42H0.42V-0.42Z"]},"legend":null},
"color":{"field":"teil","type":"nominal","scale":{"domain":["Kuppel","Quadrat","Wolke","PfeilAuf","Sonne","Schnee","PfeilAb","Ring"],"range":["#ffff00","#000080","#ffffff","#ffff00","#ffff00","#ffffff","#ffff00","#ffff66"]},"legend":null}}},
{"data":{"name":"zeitenR"},"mark":{"type":"text","align":"right","baseline":"middle","dx":-7,"dy":26,"color":"#000000"},
"encoding":{
"x":{"field":"min","type":"quantitative","scale":{"domain":[0,1440],"nice":false,"zero":false},"axis":null},
"y":{"datum":16,"type":"quantitative","scale":{"domain":[16,25],"nice":false,"zero":false},"axis":null},
"text":{"field":"zeit","type":"nominal"}}},
{"data":{"name":"zeitenL"},"mark":{"type":"text","align":"left","baseline":"middle","dx":7,"dy":26,"color":"#000000"},
"encoding":{
"x":{"field":"min","type":"quantitative","scale":{"domain":[0,1440],"nice":false,"zero":false},"axis":null},
"y":{"datum":16,"type":"quantitative","scale":{"domain":[16,25],"nice":false,"zero":false},"axis":null},
"text":{"field":"zeit","type":"nominal"}}},
{"data":{"name":"trenner"},"mark":{"type":"rule","strokeWidth":1.5,"color":"#a0a0a0"},
"encoding":{
"x":{"field":"spalte","type":"quantitative","scale":{"domain":[1,7,8],"range":[11.7,718.7,1522],"nice":false,"zero":false},"axis":null},
"y":{"datum":0,"type":"quantitative","scale":{"domain":[0,1],"range":[659,732],"nice":false,"zero":false},"axis":null},
"y2":{"datum":1}}},
{"data":{"name":"kopfLinks"},"mark":{"type":"text","align":"left","baseline":"middle","fontWeight":"bold","fontSize":11.8,"color":"#000000"},
"encoding":{
"x":{"field":"spalte","type":"quantitative","scale":{"domain":[0,1,6,7],"range":[-68.3,17.7,607.7,843],"nice":false,"zero":false},"axis":null},
"y":{"field":"zeile","type":"nominal","scale":{"type":"point","domain":["Sensor","MinWert","MaxWert","Durchschnitt"],"range":[673.7,721.3],"padding":0},"axis":null},
"text":{"field":"text","type":"nominal"}}},
{"data":{"name":"kopfRechts"},"mark":{"type":"text","align":"right","baseline":"middle","fontWeight":"bold","fontSize":11.8,"color":"#000000"},
"encoding":{
"x":{"field":"spalte","type":"quantitative","scale":{"domain":[1,6],"range":[121.3,711.3],"nice":false,"zero":false},"axis":null},
"y":{"datum":"Sensor","type":"nominal","scale":{"type":"point","domain":["Sensor","MinWert","MaxWert","Durchschnitt"],"range":[673.7,721.3],"padding":0},"axis":null},
"text":{"field":"text","type":"nominal"}}},
{"data":{"name":"zeiten"},"mark":{"type":"text","align":"left","baseline":"middle","color":"#000000"},
"encoding":{
"x":{"field":"spalte","type":"quantitative","scale":{"domain":[1,6],"range":[23.7,613.7],"nice":false,"zero":false},"axis":null},
"y":{"field":"zeile","type":"nominal","scale":{"type":"point","domain":["Sensor","MinWert","MaxWert","Durchschnitt"],"range":[673.7,721.3],"padding":0},"axis":null},
"text":{"field":"text","type":"nominal"}}},
{"data":{"name":"extras"},"mark":{"type":"text","align":"left","baseline":"middle","color":"#000000"},
"encoding":{
"x":{"field":"spalte","type":"quantitative","scale":{"domain":[0,1,6,7],"range":[-68.3,17.7,607.7,843],"nice":false,"zero":false},"axis":null},
"y":{"field":"zeile","type":"nominal","scale":{"type":"point","domain":["Sensor","MinWert","MaxWert","Durchschnitt"],"range":[673.7,721.3],"padding":0},"axis":null},
"text":{"field":"text","type":"nominal"}}},
{"data":{"name":"werte"},"mark":{"type":"text","align":"right","baseline":"middle","color":"#000000"},
"encoding":{
"x":{"field":"spalte","type":"quantitative","scale":{"domain":[1,6],"range":[121.3,711.3],"nice":false,"zero":false},"axis":null},
"y":{"field":"zeile","type":"nominal","scale":{"type":"point","domain":["Sensor","MinWert","MaxWert","Durchschnitt"],"range":[673.7,721.3],"padding":0},"axis":null},
"text":{"field":"text","type":"nominal"}}}
],
"resolve":{"scale":{"x":"independent","y":"independent","color":"independent","shape":"independent"}}
}
